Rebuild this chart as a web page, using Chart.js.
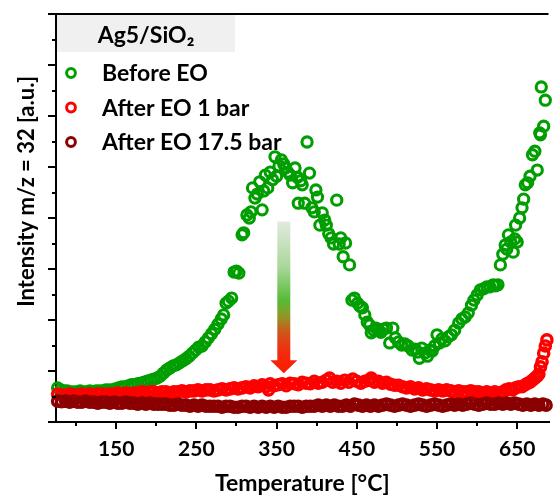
<!DOCTYPE html>
<html>
<head>
<meta charset="utf-8">
<script src="https://cdn.jsdelivr.net/npm/chart.js@4.4.1/dist/chart.umd.min.js"></script>
<style>
  html, body { margin: 0; padding: 0; background: #fff; }
  #wrap { width: 557px; height: 495px; position: relative; overflow: hidden; }
</style>
</head>
<body>
<div id="wrap"><canvas id="c" width="557" height="495"></canvas></div>
<script>
// ---------- data (temperature °C, intensity a.u.) ----------
const seriesNames = ['Before EO', 'After EO 1 bar', 'After EO 17.5 bar'];
const legendTitle = 'Ag5/SiO₂';
const xTitle = 'Temperature [°C]';
const yTitle = 'Intensity m/z = 32 [a.u.]';
const xMajorTicks = [150, 250, 350, 450, 550, 650];
const xMinorTicks = [100, 200, 300, 400, 500, 600];
const yMajorTicks = [0, 1, 2, 3, 4, 5, 6, 7, 8];
const yMinorTicks = [0.5, 1.5, 2.5, 3.5, 4.5, 5.5, 6.5, 7.5];
const arrowAt = { x: 359, top: 3.93, tip: 0.955 };

const beforeEO = [
[77,0.67],[81,0.63],[85,0.61],[89,0.61],[93,0.59],[97,0.59],[101,0.59],[105,0.61],[109,0.59],[113,0.59],
[117,0.61],[121,0.59],[125,0.61],[129,0.61],[133,0.61],[137,0.63],[141,0.63],[145,0.63],[149,0.65],[153,0.67],
[157,0.69],[161,0.69],[165,0.71],[169,0.73],[173,0.73],[177,0.75],[181,0.76],[185,0.78],[189,0.80],[193,0.82],
[197,0.84],[201,0.86],[205,0.90],[209,0.96],[213,1.02],[217,1.06],[221,1.10],[225,1.12],[229,1.16],[233,1.20],
[237,1.24],[241,1.29],[245,1.35],[249,1.41],[253,1.47],[257,1.49],[261,1.57],[265,1.65],[269,1.73],[273,1.82],
[277,1.92],[281,2.02],[284,2.10],[287,2.33],[290,2.37],[294,2.43],[297,2.94],[300,2.96],[303,2.92],[307,3.67],
[309,3.71],[313,4.06],[316,4.00],[318,4.12],[320,4.59],[323,4.39],[326,4.47],[329,4.71],[332,4.16],[334,4.53],
[336,4.84],[339,4.59],[342,4.90],[345,4.75],[348,5.20],[350,4.82],[353,5.02],[356,5.14],[359,5.06],[361,4.98],
[364,4.90],[367,4.84],[370,4.69],[373,4.98],[376,4.80],[377,4.29],[380,4.73],[382,4.65],[385,4.29],[388,5.49],
[391,4.88],[394,4.20],[397,4.12],[399,4.55],[401,4.41],[404,3.86],[407,4.10],[410,3.96],[412,3.86],[415,3.69],
[418,3.61],[421,3.49],[425,4.35],[428,3.49],[430,3.61],[433,3.24],[436,3.51],[441,3.08],[444,2.39],[447,2.43],
[451,2.33],[454,2.27],[457,2.24],[460,2.10],[463,1.96],[466,1.90],[468,1.75],[471,1.80],[474,1.84],[477,1.80],
[480,1.76],[483,1.82],[487,1.84],[491,1.55],[495,1.84],[498,1.65],[502,1.57],[506,1.51],[510,1.53],[514,1.49],
[519,1.41],[523,1.43],[526,1.37],[528,1.25],[531,1.45],[535,1.35],[538,1.29],[541,1.41],[544,1.39],[547,1.49],
[550,1.71],[553,1.55],[556,1.63],[560,1.59],[564,1.67],[568,1.71],[572,1.80],[577,1.94],[581,2.02],[585,2.06],
[589,2.14],[593,2.29],[596,2.39],[600,2.49],[604,2.59],[608,2.61],[612,2.65],[616,2.65],[620,2.69],[623,2.67],
[626,2.69],[629,3.08],[632,3.29],[635,3.47],[637,3.39],[639,3.67],[642,3.53],[645,3.33],[647,3.59],[648,3.86],
[650,3.53],[653,4.00],[656,4.20],[658,4.37],[660,4.65],[663,4.69],[666,4.82],[669,5.24],[672,5.31],[675,4.94],
[678,5.67],[679,5.63],[680,6.57],[683,5.80],[685,6.31]
];

const afterEO1bar = [
[77,0.55],[82,0.53],[87,0.53],[92,0.55],[97,0.53],[102,0.53],[107,0.55],[112,0.53],[117,0.55],[122,0.53],
[127,0.55],[132,0.55],[137,0.53],[142,0.55],[147,0.55],[152,0.57],[157,0.55],[162,0.57],[167,0.55],[172,0.57],
[177,0.57],[182,0.59],[187,0.57],[192,0.59],[197,0.59],[202,0.57],[207,0.59],[212,0.59],[217,0.57],[222,0.59],
[227,0.59],[232,0.61],[237,0.59],[242,0.61],[247,0.61],[252,0.63],[257,0.61],[262,0.63],[267,0.63],[272,0.61],
[277,0.63],[282,0.65],[287,0.63],[292,0.65],[297,0.67],[302,0.65],[307,0.67],[312,0.69],[317,0.67],[322,0.71],
[327,0.69],[332,0.73],[337,0.69],[340,0.63],[342,0.75],[347,0.71],[352,0.73],[357,0.75],[362,0.71],[367,0.76],
[372,0.75],[377,0.73],[382,0.78],[387,0.76],[392,0.75],[397,0.80],[402,0.76],[407,0.78],[412,0.82],[416,0.86],
[420,0.78],[425,0.80],[430,0.76],[435,0.82],[440,0.78],[445,0.84],[450,0.80],[455,0.76],[460,0.80],[465,0.82],
[468,0.86],[472,0.78],[477,0.80],[482,0.76],[487,0.78],[492,0.74],[497,0.72],[502,0.72],[507,0.69],[512,0.67],
[517,0.69],[522,0.65],[527,0.67],[532,0.63],[537,0.65],[542,0.63],[547,0.61],[552,0.63],[557,0.61],[562,0.63],
[567,0.61],[572,0.59],[577,0.61],[582,0.59],[587,0.59],[592,0.61],[597,0.59],[602,0.59],[607,0.57],[612,0.59],
[617,0.57],[622,0.59],[627,0.57],[632,0.59],[636,0.63],[640,0.65],[644,0.63],[648,0.67],[652,0.69],[656,0.69],
[660,0.73],[663,0.76],[666,0.78],[669,0.82],[672,0.86],[675,0.90],[677,0.94],[679,1.08],[681,1.18],[683,1.35],
[685,1.49],[687,1.61]
];

const afterEO175bar = [
[77,0.41],[82,0.40],[87,0.41],[92,0.39],[97,0.41],[102,0.39],[107,0.39],[112,0.41],[117,0.39],[122,0.39],
[127,0.37],[132,0.39],[137,0.39],[142,0.37],[147,0.39],[152,0.37],[157,0.37],[162,0.39],[167,0.37],[172,0.37],
[177,0.35],[182,0.37],[187,0.35],[192,0.37],[197,0.35],[202,0.35],[207,0.35],[212,0.35],[217,0.33],[222,0.33],
[227,0.35],[232,0.33],[237,0.33],[242,0.31],[247,0.33],[252,0.31],[257,0.33],[262,0.31],[267,0.31],[272,0.31],
[277,0.31],[282,0.29],[287,0.31],[292,0.31],[297,0.29],[302,0.29],[307,0.31],[312,0.31],[317,0.29],[322,0.31],
[327,0.29],[332,0.31],[337,0.29],[342,0.31],[347,0.29],[352,0.31],[357,0.29],[362,0.29],[367,0.31],[372,0.31],
[377,0.31],[382,0.29],[387,0.31],[392,0.31],[397,0.31],[402,0.33],[407,0.31],[412,0.33],[417,0.31],[422,0.33],
[427,0.31],[432,0.31],[437,0.33],[442,0.31],[447,0.35],[452,0.33],[457,0.31],[462,0.33],[467,0.31],[472,0.33],
[477,0.31],[482,0.33],[487,0.35],[492,0.33],[497,0.31],[502,0.33],[507,0.35],[512,0.33],[517,0.31],[522,0.33],
[527,0.35],[532,0.33],[537,0.31],[542,0.33],[547,0.35],[552,0.33],[557,0.31],[562,0.33],[567,0.35],[572,0.33],
[577,0.35],[582,0.33],[587,0.35],[592,0.37],[597,0.35],[602,0.33],[607,0.35],[612,0.37],[617,0.35],[622,0.35],
[627,0.37],[632,0.35],[637,0.37],[642,0.35],[647,0.37],[652,0.35],[657,0.33],[662,0.35],[667,0.33],[672,0.35],
[677,0.33],[682,0.35],[686,0.33]
];

const seriesColors = ['#009e00', '#ff0000', '#8b0000'];
const seriesData = [beforeEO, afterEO1bar, afterEO175bar];

// ---------- chart ----------
const FONT = 'Lato';
Chart.defaults.font.family = FONT;
Chart.defaults.font.weight = 'bold';
Chart.defaults.color = '#000';

const decor = {
  id: 'decor',
  beforeDatasetsDraw(chart) {
    const { ctx, chartArea: a, scales: { x, y } } = chart;
    ctx.save();
    // gradient arrow
    const ax = x.getPixelForValue(arrowAt.x);
    const y0 = y.getPixelForValue(arrowAt.top);
    const y1 = y.getPixelForValue(arrowAt.tip);
    const shaftW = 13, headW = 27, headH = 13;
    const g = ctx.createLinearGradient(0, y0, 0, y1);
    g.addColorStop(0, '#e2eadf');
    g.addColorStop(0.3, '#a9d79b');
    g.addColorStop(0.52, '#55bb35');
    g.addColorStop(0.62, '#8c9a25');
    g.addColorStop(0.72, '#cc5a1c');
    g.addColorStop(0.85, '#f02e10');
    g.addColorStop(1, '#ff1a00');
    ctx.fillStyle = g;
    ctx.beginPath();
    ctx.moveTo(ax - shaftW / 2, y0);
    ctx.lineTo(ax + shaftW / 2, y0);
    ctx.lineTo(ax + shaftW / 2, y1 - headH);
    ctx.lineTo(ax + headW / 2, y1 - headH);
    ctx.lineTo(ax, y1);
    ctx.lineTo(ax - headW / 2, y1 - headH);
    ctx.lineTo(ax - shaftW / 2, y1 - headH);
    ctx.closePath();
    ctx.fill();

    // legend
    const L = a.left, T = a.top;
    ctx.fillStyle = '#f0f0f0';
    ctx.fillRect(L + 1, T + 1, 178, 37);
    ctx.fillStyle = '#000';
    ctx.font = 'bold 23px ' + FONT;
    ctx.textBaseline = 'middle';
    ctx.textAlign = 'center';
    ctx.fillText(legendTitle, L + 90, T + 22);
    ctx.textAlign = 'left';
    const rows = [60, 94.5, 129];
    chart.data.datasets.forEach((ds, i) => {
      const cy = T + rows[i];
      ctx.beginPath();
      ctx.arc(L + 15, cy - 1, 4.4, 0, Math.PI * 2);
      ctx.lineWidth = 3;
      ctx.strokeStyle = ds.borderColor;
      ctx.stroke();
      ctx.fillStyle = '#000';
      ctx.fillText(ds.label, L + 46, cy);
    });
    ctx.restore();
  },
  afterDraw(chart) {
    const { ctx, chartArea: a, scales: { x, y } } = chart;
    ctx.save();
    ctx.strokeStyle = '#000';
    ctx.lineWidth = 2;
    ctx.beginPath();
    xMinorTicks.forEach(v => {
      const p = Math.round(x.getPixelForValue(v));
      ctx.moveTo(p, a.bottom); ctx.lineTo(p, a.bottom + 4);
    });
    yMinorTicks.forEach(v => {
      const p = Math.round(y.getPixelForValue(v));
      ctx.moveTo(a.left, p); ctx.lineTo(a.left - 4, p);
    });
    ctx.moveTo(a.left - 1, a.top); ctx.lineTo(a.right, a.top);
    ctx.stroke();
    ctx.restore();
  }
};

new Chart(document.getElementById('c'), {
  type: 'scatter',
  data: {
    datasets: seriesData.map((d, i) => ({
      label: seriesNames[i],
      data: d.map(p => ({ x: p[0], y: p[1] })),
      borderColor: seriesColors[i],
      backgroundColor: 'rgba(255,255,255,0)',
      pointRadius: 5.1,
      pointBorderWidth: i === 0 ? 3.1 : 3.4,
      pointHoverRadius: 5.1,
      order: 3 - i,
      clip: false
    }))
  },
  options: {
    responsive: false,
    animation: false,
    events: [],
    layout: { padding: { top: 14, right: 0, bottom: 0, left: 0 } },
    plugins: { legend: { display: false }, tooltip: { enabled: false } },
    scales: {
      x: {
        type: 'linear',
        min: 75,
        max: 689,
        afterBuildTicks: s => { s.ticks = xMajorTicks.map(v => ({ value: v })); },
        afterFit: s => { s.height = 73; },
        border: { display: true, color: '#000', width: 2 },
        grid: { display: true, drawOnChartArea: false, tickLength: 7, color: '#000', lineWidth: 2 },
        ticks: { color: '#000', padding: 8, maxRotation: 0, font: { size: 21, weight: 'bold' } },
        title: {
          display: true, text: xTitle, color: '#000',
          font: { size: 23, weight: 'bold', lineHeight: 1 }, padding: { top: 0, bottom: 0 }
        }
      },
      y: {
        type: 'linear',
        min: 0,
        max: 8,
        afterBuildTicks: s => { s.ticks = yMajorTicks.map(v => ({ value: v })); },
        afterFit: s => { s.width = 56; },
        border: { display: true, color: '#000', width: 2 },
        grid: { display: true, drawOnChartArea: false, tickLength: 8, color: '#000', lineWidth: 2 },
        ticks: { display: false },
        title: {
          display: true, text: '          ' + yTitle, color: '#000',
          font: { size: 22, weight: 'bold', lineHeight: 1 }, padding: { top: 16, bottom: 0 }
        }
      }
    }
  },
  plugins: [decor]
});
</script>
</body>
</html>
